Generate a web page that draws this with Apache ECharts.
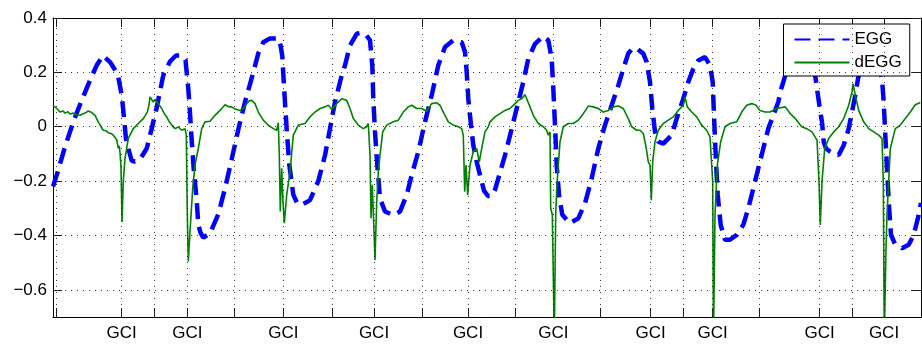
<!DOCTYPE html>
<html>
<head>
<meta charset="utf-8">
<script src="https://cdn.jsdelivr.net/npm/echarts@6/dist/echarts.min.js"></script>
<style>
  html, body { margin: 0; padding: 0; background: #fff; }
  #chart { width: 922px; height: 344px; }
</style>
</head>
<body>
<div id="chart"></div>
<script>
// Time runs in samples across the window (0 .. 868).

// EGG waveform (dashed blue)
const eggT = [0,3.7,12,20.3,28.7,37,43.7,50,57,63.7,65.3,68.7,70.3,73,75.3,78.7,82,87,93.7,98.7,103.7,110.3,117,123,128.7,132.5,135.3,137,138.7,141,143.7,145.3,147.5,150.3,157,165.3,172,178.7,185.3,192,200.3,205.3,210.3,217,225.3,227.5,229.3,231.3,233.7,236.3,240.3,244,248.7,257,265.3,272,277,282,288.7,292,297,303.7,308.7,313,317,319.3,320.3,322,324.3,327,332,340.3,347,353.7,358.7,365.3,372,378.7,385.3,392,400.3,408.7,412,413.7,415.3,418,420.3,423.7,427,431,435,438.7,442,445.3,452,458.7,465.3,470.3,475.3,482,490.3,495.3,498.7,500.3,502,503.7,506,509.3,517,525.3,532,538.7,545.3,552,558.7,565.3,570.3,575.3,580.3,583.7,590.3,593.7,597,599.3,602,605.3,610.3,618.7,623.7,630.3,635.3,640.3,645.3,652,657,659.7,661,662.7,664.7,667.7,672,677,683.7,690.3,695.3,700.3,705.3,710.3,715.3,720.3,725.3,727.3,732.3,739,747,755,761,764,767.3,769,770.7,773,777.3,782,785.7,790.7,795.7,799,802.3,805,810,817,824,829,830.7,832.3,834,835.7,838,842.3,849,855.7,860.7,865.7,868];
const eggV = [-0.22,-0.178,-0.074,0.018,0.097,0.171,0.226,0.262,0.238,0.2,0.183,0.116,0.06,-0.045,-0.08,-0.125,-0.128,-0.12,-0.08,-0.007,0.07,0.19,0.24,0.262,0.262,0.245,0.14,0.05,-0.05,-0.17,-0.27,-0.36,-0.39,-0.408,-0.392,-0.322,-0.227,-0.12,-0.01,0.091,0.2,0.27,0.311,0.325,0.325,0.3,0.26,0.13,-0.01,-0.14,-0.25,-0.28,-0.288,-0.27,-0.2,-0.105,-0.007,0.091,0.189,0.226,0.299,0.342,0.346,0.338,0.318,0.226,0.103,-0.019,-0.141,-0.263,-0.312,-0.325,-0.312,-0.251,-0.178,-0.092,0.018,0.116,0.226,0.293,0.318,0.311,0.275,0.201,0.103,0.006,-0.068,-0.129,-0.178,-0.235,-0.255,-0.255,-0.232,-0.19,-0.105,-0.007,0.091,0.165,0.25,0.305,0.333,0.318,0.25,0.14,0.006,-0.141,-0.251,-0.324,-0.355,-0.337,-0.282,-0.19,-0.08,0.006,0.079,0.152,0.213,0.27,0.29,0.288,0.269,0.238,0.165,0.067,-0.019,-0.055,-0.062,-0.031,0.03,0.103,0.165,0.213,0.244,0.256,0.226,0.165,0.042,-0.105,-0.251,-0.361,-0.416,-0.416,-0.398,-0.361,-0.3,-0.227,-0.153,-0.08,-0.007,0.042,0.091,0.128,0.189,0.25,0.29,0.28,0.22,0.14,0.055,0.018,-0.055,-0.08,-0.092,-0.1,-0.104,-0.068,-0.007,0.055,0.116,0.177,0.24,0.27,0.25,0.177,0.091,-0.031,-0.153,-0.276,-0.398,-0.434,-0.447,-0.434,-0.398,-0.325,-0.28];

// Derivative of the EGG (solid green)
const deggT = [0,3.7,7,10,12,15,17,20.3,23,25,27,30.3,33,35.3,38.7,42,45.3,48,50.3,53,55.3,58,60.3,62,63.7,65.3,66.3,67,68,69,70.3,72,75.3,80.3,85.3,90.3,94.3,96,97,98.7,100.3,102,103,105.3,108.7,111,113.7,116,118.7,122,125.3,128.7,132,133.3,134.3,135.3,137,139.7,142,145.3,148.7,152,157,162,167,172,175.3,178.7,182,187,190.3,193.7,196,198.7,202,205.3,210.3,215.3,220.3,223.7,225.3,226.3,227.3,228.7,230,231.3,233.7,237,240.3,245.3,252,257,262,267,272,275.3,278.7,283.7,288.7,290.3,293.7,297,300.3,305.3,310.3,313.7,315.3,317,318,319.3,321,322,323.7,325.3,327,329.7,333.7,340.3,345.3,350.3,355.3,358.7,363.7,368.7,373.7,378.7,383.7,387,390.3,395.3,400.3,405.3,408.7,410.3,411.7,413,414.7,417,420.3,423.7,426.3,428.7,432,435.3,437,442,447,452,457,462,465.3,468.7,472,473.7,477,480.3,485.3,490.3,493.7,495.3,497,497.7,499.3,500.3,501.3,502.7,503.7,505.3,507,510.3,515.3,520.3,525.3,530.3,535.3,540.3,545.3,550.3,555.3,560.3,565.3,570.3,575.3,578.7,583.7,587,590.3,593,595.3,597,598.3,599.7,602,605.3,610.3,615.3,620.3,625.3,630.3,632,634.3,638.7,643.7,648.7,653.7,657,658.7,659.7,660.5,662,664.3,667.7,672,677,683.7,688.7,693.7,698.7,703,707,712,717,723.7,725.7,732.3,737.3,742.3,748.7,753.7,759,764,766,767.3,769,771.7,775.7,780.7,785.7,790.7,795.7,799,800,802.3,805.7,810.7,815.7,820.7,825.7,829,830.3,831.3,833,834,837.3,842.3,847.3,852.3,857.3,862.3,867.3];
const deggV = [0.079,0.067,0.054,0.058,0.05,0.055,0.047,0.05,0.044,0.05,0.042,0.048,0.052,0.058,0.052,0.042,0.018,0,-0.013,-0.015,-0.022,-0.025,-0.031,-0.036,-0.048,-0.08,-0.07,-0.095,-0.15,-0.35,-0.2,-0.117,-0.043,-0.007,0.012,0.03,0.054,0.08,0.11,0.1,0.091,0.1,0.094,0.085,0.067,0.05,0.036,0.02,0.006,-0.007,-0.001,-0.013,-0.007,-0.031,-0.325,-0.496,-0.386,-0.227,-0.141,-0.08,-0.007,0.018,0.02,0.042,0.06,0.081,0.074,0.073,0.065,0.06,0.067,0.085,0.095,0.097,0.085,0.054,0.024,0.006,-0.007,-0.013,0.015,-0.105,-0.312,-0.153,-0.276,-0.355,-0.251,-0.166,-0.031,0.006,0.012,0.036,0.054,0.067,0.073,0.079,0.064,0.085,0.103,0.103,0.097,0.067,0.03,0.006,-0.007,0,0.012,-0.105,-0.337,-0.214,-0.386,-0.49,-0.276,-0.166,-0.105,-0.019,0.006,0.018,0.024,0.054,0.073,0.079,0.067,0.067,0.057,0.085,0.088,0.079,0.054,0.018,0.006,0,-0.007,-0.031,-0.239,-0.141,-0.251,-0.141,-0.092,-0.08,-0.129,-0.08,-0.019,0,0.018,0.036,0.048,0.06,0.067,0.085,0.097,0.103,0.118,0.103,0.073,0.042,0.012,0,-0.013,-0.031,-0.019,-0.3,-0.324,-0.55,-0.78,-0.324,-0.227,-0.141,-0.055,0,0.012,0.012,0.024,0.048,0.076,0.073,0.067,0.054,0.06,0.073,0.076,0.067,0.03,0,-0.013,-0.013,-0.025,-0.074,-0.129,-0.141,-0.27,-0.129,-0.055,-0.013,0.012,0.024,0.036,0.06,0.079,0.11,0.073,0.054,0.036,0.006,-0.013,-0.037,-0.043,-0.202,-0.78,-0.324,-0.141,-0.055,0,0.012,0.018,0.054,0.079,0.085,0.079,0.06,0.054,0.054,0.067,0.067,0.073,0.048,0.03,0,-0.007,-0.019,-0.049,-0.202,-0.361,-0.202,-0.08,-0.043,-0.019,0,0.03,0.079,0.128,0.158,0.116,0.06,0.018,-0.007,-0.019,-0.031,-0.043,-0.202,-0.78,-0.447,-0.324,-0.08,-0.007,0.006,0.03,0.054,0.081,0.089];

// Tick marks along the time axis; the glottal closure instants carry a label
const gciTicks = [68.7, 134.3, 230.3, 321, 415, 500.3, 597.7, 659.7, 766.7, 831];
const plainTicks = [3, 101, 181.7, 279, 369, 462.7, 547.3, 630.3, 706.3, 799.3];
const yTicks = [-0.6, -0.4, -0.2, 0, 0.2, 0.4];

const allTicks = gciTicks.concat(plainTicks).sort((a, b) => a - b);
const pairs = (t, v) => t.map((x, i) => [x, v[i]]);
const fmtY = v => v === 0 ? '0' : (v < 0 ? '\u2212' : '') + Math.abs(v).toFixed(1);

const FONT = 'Liberation Sans, Arial, Helvetica, sans-serif';
const frame = { show: true, onZero: false, lineStyle: { color: '#000', width: 1 } };
const tickStyle = { color: '#222', width: 1 };

const chart = echarts.init(document.getElementById('chart'), null, { renderer: 'canvas' });
chart.setOption({
  animation: false,
  backgroundColor: '#fff',
  grid: { left: 53, right: 1, top: 18, bottom: 27, containLabel: false },
  xAxis: [
    {
      type: 'value', min: 0, max: 868, position: 'bottom',
      axisLine: frame,
      axisTick: { show: true, inside: true, length: 9, customValues: allTicks, lineStyle: tickStyle },
      axisLabel: {
        show: true, customValues: gciTicks, formatter: () => 'GCI',
        margin: 8, color: '#000', fontFamily: FONT, fontSize: 17
      },
      splitLine: { show: false }
    },
    {
      type: 'value', min: 0, max: 868, position: 'top',
      axisLine: frame,
      axisTick: { show: true, inside: true, length: 9, customValues: allTicks, lineStyle: tickStyle },
      axisLabel: { show: false },
      splitLine: { show: false }
    }
  ],
  yAxis: [
    {
      type: 'value', min: -0.7, max: 0.4, position: 'left',
      axisLine: frame,
      axisTick: { show: true, inside: true, length: 9, customValues: yTicks, lineStyle: tickStyle },
      axisLabel: {
        show: true, customValues: yTicks, formatter: fmtY,
        margin: 6, color: '#000', fontFamily: FONT, fontSize: 17
      },
      splitLine: { show: false }
    },
    {
      type: 'value', min: -0.7, max: 0.4, position: 'right',
      axisLine: frame,
      axisTick: { show: true, inside: true, length: 9, customValues: yTicks, lineStyle: tickStyle },
      axisLabel: { show: false },
      splitLine: { show: false }
    }
  ],
  legend: {
    data: ['EGG', 'dEGG'],
    orient: 'vertical',
    left: 783.5, top: 24,
    padding: [7, 8, 5, 10],
    itemGap: 6,
    itemWidth: 55, itemHeight: 14,
    backgroundColor: '#fff',
    borderColor: '#000', borderWidth: 1,
    // plain line samples only, no marker in the middle
    itemStyle: { opacity: 0, borderWidth: 0 },
    textStyle: { color: '#000', fontFamily: FONT, fontSize: 17, lineHeight: 17 },
    selectedMode: false
  },
  series: [
    {
      // dotted grid drawn at every tick position
      name: 'grid', type: 'line', data: [], z: 1, silent: true,
      markLine: {
        silent: true, symbol: ['none', 'none'], animation: false,
        label: { show: false },
        lineStyle: { color: '#000', width: 1, type: [1, 5], opacity: 0.75 },
        emphasis: { disabled: true },
        data: allTicks.map(v => ({ xAxis: v })).concat(yTicks.map(v => ({ yAxis: v })))
      }
    },
    {
      name: 'EGG', type: 'line', data: pairs(eggT, eggV),
      symbol: 'none', z: 3, clip: true,
      lineStyle: { color: '#0000ff', width: 4.5, type: [16, 8], cap: 'butt' },
      itemStyle: { color: '#0000ff' }
    },
    {
      name: 'dEGG', type: 'line', data: pairs(deggT, deggV),
      symbol: 'none', z: 4, clip: true,
      lineStyle: { color: '#008000', width: 1.6 },
      itemStyle: { color: '#008000' }
    }
  ]
});
</script>
</body>
</html>
